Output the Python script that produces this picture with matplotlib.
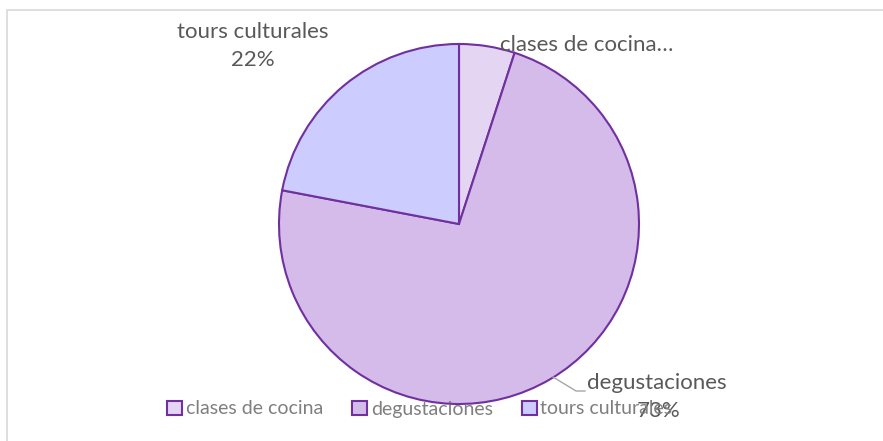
import matplotlib.pyplot as plt
from matplotlib.patches import Patch, Rectangle

# datos del gráfico
categorias = ['clases de cocina', 'degustaciones', 'tours culturales']
valores = [5, 73, 22]
colores = ['#E4D5F2', '#D5BBE9', '#CCCCFF']
borde = '#7030A0'

W, H = 883, 441
fig = plt.figure(figsize=(W / 100, H / 100), dpi=100)
ax = fig.add_axes([0, 0, 1, 1])

# marco del gráfico
fig.patches.append(Rectangle((7.5 / W, -0.1), 1.2, (H - 9.5) / H + 0.1,
                             transform=fig.transFigure, fill=False,
                             edgecolor='#D9D9D9', linewidth=1.2))

ax.pie(valores, colors=colores, startangle=90, counterclock=False,
       center=(459, H - 224), radius=180, frame=True,
       wedgeprops=dict(edgecolor=borde, linewidth=1.5))
ax.set_xlim(0, W)
ax.set_ylim(0, H)
ax.axis('off')

fuente = 'Lato'
gris = '#595959'
tam = 16

# etiquetas de datos
ax.text(253, H - 32, categorias[2], ha='center', va='center',
        fontsize=tam, color=gris, family=fuente)
ax.text(253, H - 60, f'{valores[2]}%', ha='center', va='center',
        fontsize=tam, color=gris, family=fuente)
ax.text(500, H - 45, categorias[0] + '…', ha='left', va='center',
        fontsize=tam, color=gris, family=fuente)
ax.text(587, H - 383, categorias[1], ha='left', va='center',
        fontsize=tam, color=gris, family=fuente)
ax.text(659, H - 411, f'{valores[1]}%', ha='center', va='center',
        fontsize=tam, color=gris, family=fuente)
ax.plot([553, 576, 585], [H - 377, H - 391, H - 391], color='#A6A6A6', linewidth=1)

# leyenda
handles = [Patch(facecolor=c, edgecolor=borde, linewidth=1.5) for c in colores]
leg = ax.legend(handles, categorias, loc='center', bbox_to_anchor=(420 / W, 1 - 409 / H),
                bbox_transform=fig.transFigure, ncol=3, frameon=False,
                handlelength=0.75, handleheight=0.75, handletextpad=0.2,
                columnspacing=1.5, prop={'family': fuente, 'size': 14})
for t in leg.get_texts():
    t.set_color('#7F7F7F')

fig.savefig('out.png', dpi=100)
